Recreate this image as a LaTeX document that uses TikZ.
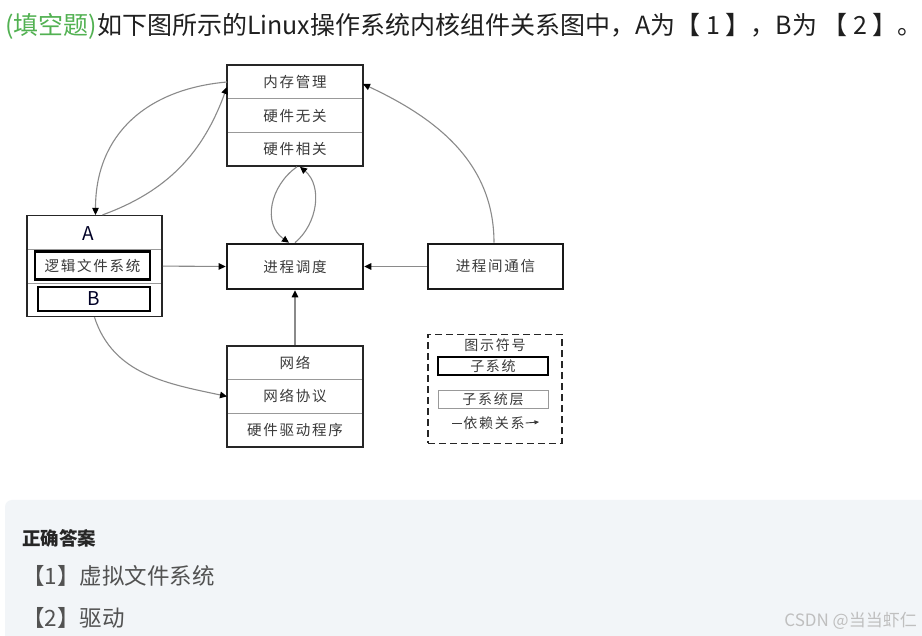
\documentclass[tikz,border=0pt]{standalone}
\usepackage{fontspec}
\setmainfont{Noto Sans CJK SC}
\newfontfamily\dg[LetterSpace=12]{Noto Sans CJK SC}
\usetikzlibrary{arrows.meta,fit,calc}
\definecolor{qgreen}{HTML}{52B152}
\definecolor{dtext}{HTML}{3A3A3A}
\definecolor{conn}{HTML}{8A8A8A}
\definecolor{panel}{HTML}{F2F5F8}
\tikzset{
  row/.style={draw=gray!80, line width=0.6pt, minimum width=136pt, minimum height=33.6pt,
    inner sep=0pt, outer sep=0pt, text=dtext, font=\dg\fontsize{14.5}{16}\selectfont},
  layerbox/.style={draw=black!85, line width=1.6pt, inner sep=0pt},
  subsys/.style={draw=black!90, line width=2.6pt, minimum width=136pt, minimum height=45pt,
    inner sep=0pt, text=dtext, font=\dg\fontsize{14.5}{16}\selectfont},
  innerbox/.style={draw=black, line width=2.6pt, inner sep=0pt, text=dtext,
    font=\dg\fontsize{14.5}{16}\selectfont},
  dep/.style={draw=conn, line width=1.1pt, -{Triangle[length=7pt,width=6.5pt,color=black]}},
}
\begin{document}
\begin{tikzpicture}[x=1pt,y=-1pt]
\useasboundingbox (0,0) rectangle (922,636);
\fill[white] (0,0) rectangle (922,636);

% title
\node[anchor=base west, inner sep=0pt, font=\fontsize{25}{28}\selectfont, text=black!88] (title) at (5,35)
  {\textcolor{qgreen}{(填空题)}如下图所示的Linux操作系统内核组件关系图中，A为【 1 】，B为 【 2 】。};

% memory management
\node[row] (mem1) at (295,82) {内存管理};
\node[row] (mem2) at (295,115.6) {硬件无关};
\node[row] (mem3) at (295,149.2) {硬件相关};
\node[layerbox, fit=(mem1)(mem3)] (mem) {};

% A box (VFS)
\node[row, minimum width=135pt] (a1) at (94.5,232.5) {};
\node[row, minimum width=135pt] (a2) at (94.5,266.1) {};
\node[row, minimum width=135pt] (a3) at (94.5,299.7) {};
\node[layerbox, fit=(a1)(a3)] (abox) {};
\node[font=\fontsize{19}{21}\selectfont, text=black!85!blue] (atext) at (88,234) {A};
\node[innerbox, minimum width=115pt, minimum height=28pt] (lfs) at (92.5,265.5) {逻辑文件系统};
\node[innerbox, minimum width=112pt, minimum height=24pt, font=\fontsize{19}{21}\selectfont, text=black!85!blue] (bbox) at (94,299) {B};

% scheduler and IPC
\node[subsys] (sched) at (295,266.5) {进程调度};
\node[subsys, minimum width=135pt] (ipc) at (495.5,266.5) {进程间通信};

% network
\node[row] (net1) at (295,362.8) {网络};
\node[row] (net2) at (295,396.4) {网络协议};
\node[row] (net3) at (295,430) {硬件驱动程序};
\node[layerbox, fit=(net1)(net3)] (net) {};

% legend
\node[draw=black!85, line width=1.6pt, dash pattern=on 7pt off 4pt, minimum width=134pt,
  minimum height=109pt, inner sep=0pt] (legend) at (495,389) {};
\node[text=dtext, font=\dg\fontsize{14}{15}\selectfont] (legtitle) at (495,345) {图示符号};
\node[innerbox, minimum width=110pt, minimum height=18pt, font=\dg\fontsize{14}{15}\selectfont] (legsub) at (493,366) {子系统};
\node[draw=gray!80, line width=0.8pt, minimum width=110pt, minimum height=18pt, inner sep=0pt,
  text=dtext, font=\dg\fontsize{14}{15}\selectfont] (leglayer) at (493,399) {子系统层};
\node[text=dtext, font=\dg\fontsize{14}{15}\selectfont, inner sep=1pt] (legdep) at (494,423) {依赖关系};
\coordinate (ls) at (452,423);
\coordinate (le) at (539,422);
\draw[dtext, line width=0.9pt] (ls) -- (legdep.west);
\draw[dtext, line width=0.9pt, -{Triangle[length=4.5pt,width=4pt]}] (legdep.east) -- (le);

% connectors
\draw[dep] (mem1.west) to[out=185, in=90, looseness=1.1] ([xshift=1pt]abox.north);
\draw[dep] ([xshift=8pt]abox.north) to[out=20, in=250] ([yshift=-5pt]mem1.west);
\draw[dep] ([xshift=2pt]mem.south) to[out=215, in=145, looseness=1.1] ([xshift=-6pt]sched.north);
\draw[dep] (sched.north) to[out=40, in=-40] ([xshift=5pt]mem.south);
\draw[dep] (abox.east) -- (sched.west);
\draw[dep] (ipc.west) -- (sched.east);
\draw[dep] (net.north) -- (sched.south);
\draw[dep] ([xshift=-1.5pt]ipc.north) to[out=90, in=-25] ([yshift=-2pt]mem1.east);
\draw[dep] (abox.south) to[out=-72, in=168] (net2.west);

% answer panel
\fill[panel, rounded corners=7pt] (5,500) rectangle (935,650);
\node[anchor=base west, inner sep=0pt, font=\bfseries\fontsize{18.5}{20}\selectfont, text=black!85] (anshead) at (22,545) {正确答案};
\node[anchor=base west, inner sep=0pt, font=\fontsize{22.5}{24}\selectfont, text=black!68] (ans1) at (22,584) {【1】虚拟文件系统};
\node[anchor=base west, inner sep=0pt, font=\fontsize{22.5}{24}\selectfont, text=black!68] (ans2) at (22,626) {【2】驱动};
\node[anchor=base east, inner sep=0pt, font=\fontsize{17}{19}\selectfont, text=black!25] (wm) at (917,626) {CSDN @当当虾仁};
\end{tikzpicture}
\end{document}
